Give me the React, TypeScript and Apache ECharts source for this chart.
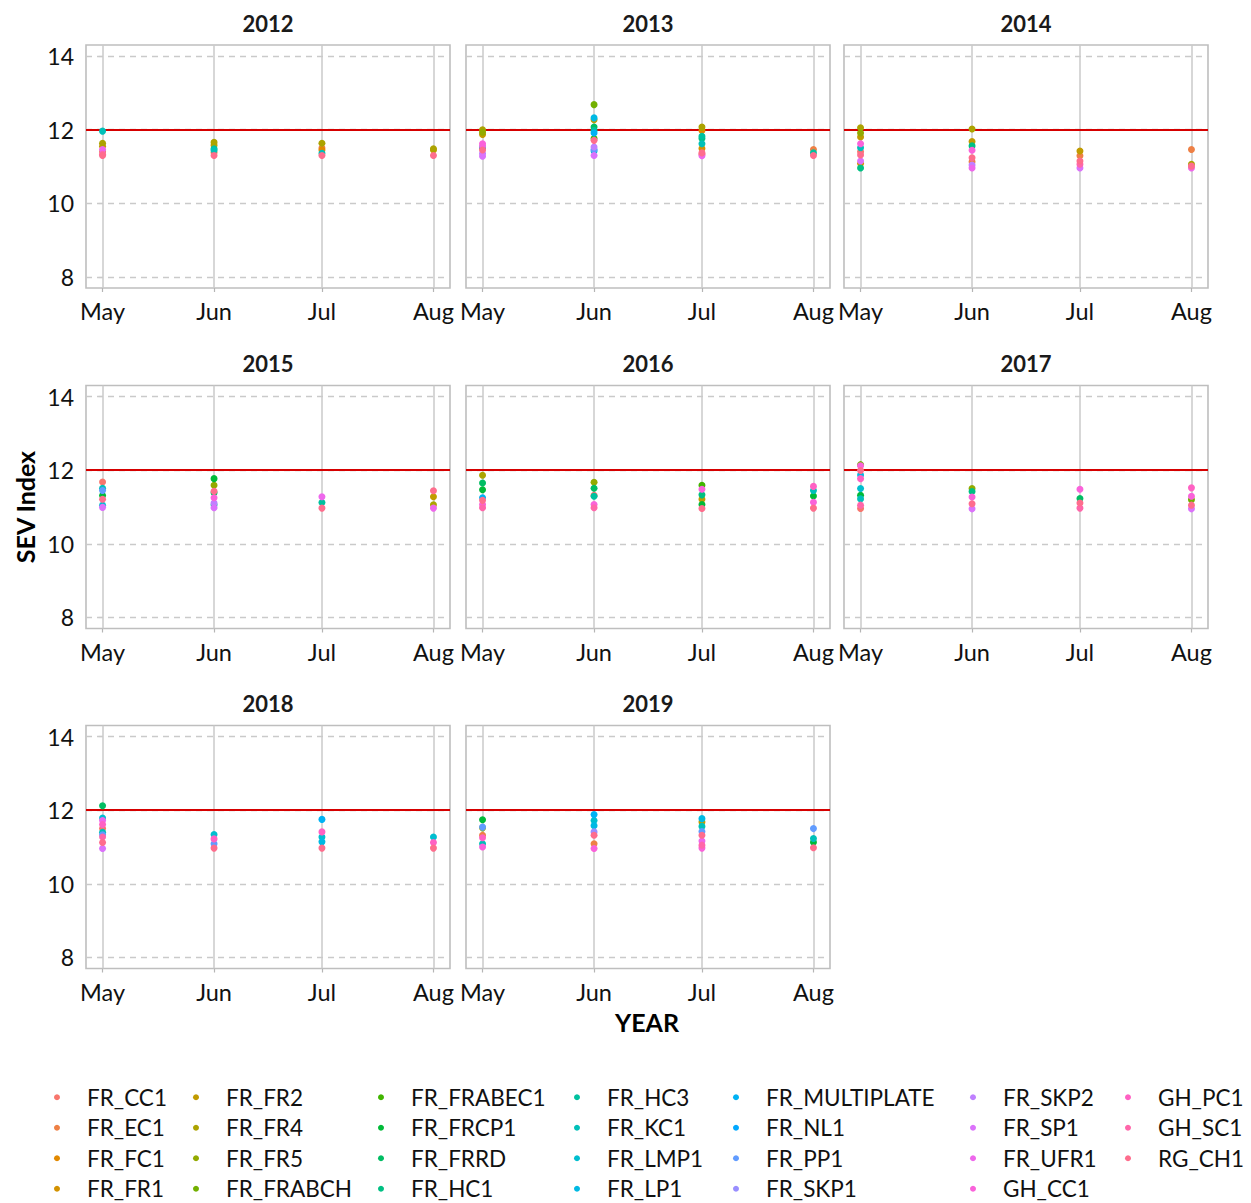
import React, { useEffect, useRef } from "react";
import * as echarts from "echarts";

// ---------------- data ----------------
const YEARS = ["2012", "2013", "2014", "2015", "2016", "2017", "2018", "2019"];
const MONTHS = ["May", "Jun", "Jul", "Aug"];
const MONTH_NUM = [5, 6, 7, 8];
const Y_TICKS = [8, 10, 12, 14];
const THRESHOLD = 12;

const SERIES_NAMES = [
  "FR_CC1", "FR_EC1", "FR_FC1", "FR_FR1",
  "FR_FR2", "FR_FR4", "FR_FR5", "FR_FRABCH",
  "FR_FRABEC1", "FR_FRCP1", "FR_FRRD", "FR_HC1",
  "FR_HC3", "FR_KC1", "FR_LMP1", "FR_LP1",
  "FR_MULTIPLATE", "FR_NL1", "FR_PP1", "FR_SKP1",
  "FR_SKP2", "FR_SP1", "FR_UFR1", "GH_CC1",
  "GH_PC1", "GH_SC1", "RG_CH1",
];

type Pt = [string, string, number];

const yr2012: Pt[] = [
  ["FR_KC1", "May", 11.96], ["FR_FR4", "May", 11.63], ["FR_FR2", "May", 11.55], ["FR_UFR1", "May", 11.46],
  ["FR_EC1", "May", 11.4], ["GH_SC1", "May", 11.33], ["RG_CH1", "May", 11.3],
  ["FR_FR4", "Jun", 11.66], ["FR_FR2", "Jun", 11.58], ["FR_HC3", "Jun", 11.48], ["FR_KC1", "Jun", 11.44],
  ["FR_EC1", "Jun", 11.38], ["RG_CH1", "Jun", 11.3],
  ["FR_FR4", "Jul", 11.63], ["FR_EC1", "Jul", 11.5], ["FR_FC1", "Jul", 11.45], ["FR_KC1", "Jul", 11.36],
  ["RG_CH1", "Jul", 11.3],
  ["FR_FR4", "Aug", 11.48], ["FR_FR2", "Aug", 11.45], ["RG_CH1", "Aug", 11.3],
];

const yr2013: Pt[] = [
  ["FR_FR4", "May", 12.0], ["FR_FR5", "May", 11.93], ["FR_FR2", "May", 11.87], ["GH_CC1", "May", 11.62],
  ["FR_UFR1", "May", 11.55], ["FR_HC3", "May", 11.52], ["FR_CC1", "May", 11.49], ["RG_CH1", "May", 11.45],
  ["FR_SKP2", "May", 11.35], ["FR_SP1", "May", 11.28],
  ["FR_FRABCH", "Jun", 12.68], ["FR_LP1", "Jun", 12.32], ["FR_FR2", "Jun", 12.27], ["FR_FRRD", "Jun", 12.07],
  ["FR_HC3", "Jun", 11.98], ["FR_MULTIPLATE", "Jun", 11.91], ["FR_FRABEC1", "Jun", 11.76], ["RG_CH1", "Jun", 11.71],
  ["FR_SKP2", "Jun", 11.53], ["FR_PP1", "Jun", 11.46], ["FR_LMP1", "Jun", 11.42], ["FR_SP1", "Jun", 11.3],
  ["FR_FR4", "Jul", 12.07], ["FR_FC1", "Jul", 11.98], ["FR_HC3", "Jul", 11.82], ["FR_HC1", "Jul", 11.76],
  ["FR_KC1", "Jul", 11.62], ["FR_FR1", "Jul", 11.49], ["RG_CH1", "Jul", 11.37], ["FR_CC1", "Jul", 11.33],
  ["FR_UFR1", "Jul", 11.29],
  ["FR_EC1", "Aug", 11.46], ["FR_HC3", "Aug", 11.37], ["RG_CH1", "Aug", 11.3],
];

const yr2014: Pt[] = [
  ["FR_FR4", "May", 12.05], ["FR_FR5", "May", 11.91], ["FR_FR2", "May", 11.8], ["GH_CC1", "May", 11.62],
  ["FR_KC1", "May", 11.51], ["FR_CC1", "May", 11.4], ["RG_CH1", "May", 11.31], ["FR_SP1", "May", 11.15],
  ["FR_FR1", "May", 11.08], ["FR_HC1", "May", 10.96],
  ["FR_FR4", "Jun", 12.02], ["FR_FR2", "Jun", 11.68], ["FR_HC1", "Jun", 11.56], ["GH_CC1", "Jun", 11.44],
  ["RG_CH1", "Jun", 11.24], ["FR_EC1", "Jun", 11.13], ["FR_SKP2", "Jun", 11.04], ["FR_UFR1", "Jun", 10.96],
  ["FR_FR2", "Jul", 11.42], ["FR_EC1", "Jul", 11.29], ["RG_CH1", "Jul", 11.15], ["GH_SC1", "Jul", 11.06],
  ["FR_SP1", "Jul", 10.96],
  ["FR_EC1", "Aug", 11.46], ["FR_FR4", "Aug", 11.06], ["RG_CH1", "Aug", 11.01], ["FR_UFR1", "Aug", 10.96],
];

const yr2015: Pt[] = [
  ["FR_CC1", "May", 11.68], ["FR_KC1", "May", 11.51], ["FR_PP1", "May", 11.45], ["FR_FRCP1", "May", 11.31],
  ["RG_CH1", "May", 11.21], ["FR_LMP1", "May", 11.05], ["FR_SP1", "May", 10.99],
  ["FR_FRCP1", "Jun", 11.77], ["FR_FR5", "Jun", 11.59], ["RG_CH1", "Jun", 11.43], ["FR_FRRD", "Jun", 11.39],
  ["GH_CC1", "Jun", 11.25], ["FR_SKP2", "Jun", 11.11], ["FR_HC3", "Jun", 11.06], ["FR_SP1", "Jun", 10.98],
  ["FR_UFR1", "Jul", 11.28], ["FR_HC3", "Jul", 11.12], ["RG_CH1", "Jul", 10.97],
  ["RG_CH1", "Aug", 11.44], ["FR_FR2", "Aug", 11.28], ["FR_FR4", "Aug", 11.06], ["FR_UFR1", "Aug", 10.97],
];

const yr2016: Pt[] = [
  ["FR_FR4", "May", 11.86], ["FR_FRRD", "May", 11.65], ["FR_FRCP1", "May", 11.47], ["FR_MULTIPLATE", "May", 11.25],
  ["RG_CH1", "May", 11.18], ["GH_CC1", "May", 11.07], ["GH_SC1", "May", 10.98],
  ["FR_FR5", "Jun", 11.67], ["FR_FRRD", "Jun", 11.51], ["FR_CC1", "Jun", 11.32], ["FR_HC3", "Jun", 11.29],
  ["GH_CC1", "Jun", 11.07], ["GH_SC1", "Jun", 10.98],
  ["FR_FRABEC1", "Jul", 11.59], ["GH_CC1", "Jul", 11.48], ["FR_HC1", "Jul", 11.33], ["FR_FR2", "Jul", 11.21],
  ["FR_FRCP1", "Jul", 11.07], ["RG_CH1", "Jul", 10.96],
  ["GH_PC1", "Aug", 11.56], ["FR_KC1", "Aug", 11.45], ["FR_FRCP1", "Aug", 11.3], ["GH_CC1", "Aug", 11.13],
  ["RG_CH1", "Aug", 10.97],
];

const yr2017: Pt[] = [
  ["FR_FRABCH", "May", 12.15], ["GH_CC1", "May", 12.12], ["RG_CH1", "May", 11.99], ["FR_LP1", "May", 11.87],
  ["GH_PC1", "May", 11.77], ["FR_LMP1", "May", 11.5], ["FR_FRCP1", "May", 11.32], ["FR_KC1", "May", 11.22],
  ["GH_SC1", "May", 11.05], ["FR_CC1", "May", 10.96],
  ["FR_FR5", "Jun", 11.5], ["FR_HC1", "Jun", 11.42], ["GH_CC1", "Jun", 11.27], ["RG_CH1", "Jun", 11.09],
  ["FR_SP1", "Jun", 10.95],
  ["GH_CC1", "Jul", 11.48], ["FR_FRRD", "Jul", 11.23], ["RG_CH1", "Jul", 11.11], ["GH_SC1", "Jul", 10.97],
  ["GH_PC1", "Aug", 11.52], ["GH_CC1", "Aug", 11.29], ["FR_FRABCH", "Aug", 11.2], ["RG_CH1", "Aug", 11.05],
  ["FR_SP1", "Aug", 10.95],
];

const yr2018: Pt[] = [
  ["FR_FRRD", "May", 12.12], ["FR_LMP1", "May", 11.79], ["FR_UFR1", "May", 11.72], ["GH_PC1", "May", 11.61],
  ["FR_CC1", "May", 11.5], ["FR_KC1", "May", 11.4], ["FR_PP1", "May", 11.33], ["GH_SC1", "May", 11.27],
  ["RG_CH1", "May", 11.12], ["FR_SP1", "May", 10.96],
  ["FR_LMP1", "Jun", 11.34], ["GH_PC1", "Jun", 11.22], ["FR_PP1", "Jun", 11.09], ["RG_CH1", "Jun", 10.97],
  ["FR_MULTIPLATE", "Jul", 11.75], ["GH_PC1", "Jul", 11.41], ["FR_LMP1", "Jul", 11.27], ["FR_LP1", "Jul", 11.14],
  ["RG_CH1", "Jul", 10.97],
  ["FR_LMP1", "Aug", 11.27], ["GH_PC1", "Aug", 11.12], ["RG_CH1", "Aug", 10.97],
];

const yr2019: Pt[] = [
  ["FR_FRCP1", "May", 11.74], ["FR_PP1", "May", 11.54], ["FR_FR5", "May", 11.52], ["FR_EC1", "May", 11.32],
  ["GH_PC1", "May", 11.25], ["FR_KC1", "May", 11.09], ["GH_CC1", "May", 11.0],
  ["FR_MULTIPLATE", "Jun", 11.88], ["FR_LMP1", "Jun", 11.72], ["FR_LP1", "Jun", 11.58], ["FR_SKP1", "Jun", 11.41],
  ["RG_CH1", "Jun", 11.32], ["FR_EC1", "Jun", 11.09], ["GH_CC1", "Jun", 10.96],
  ["FR_LP1", "Jul", 11.77], ["FR_FR2", "Jul", 11.68], ["FR_KC1", "Jul", 11.56], ["FR_PP1", "Jul", 11.42],
  ["RG_CH1", "Jul", 11.32], ["FR_UFR1", "Jul", 11.16], ["GH_SC1", "Jul", 11.05], ["GH_CC1", "Jul", 10.97],
  ["FR_PP1", "Aug", 11.5], ["FR_KC1", "Aug", 11.23], ["FR_FRCP1", "Aug", 11.13], ["RG_CH1", "Aug", 10.98],
];

const YEAR_DATA: Pt[][] = [yr2012, yr2013, yr2014, yr2015, yr2016, yr2017, yr2018, yr2019];

// ---------------- helpers ----------------
// ggplot2-style hue palette (CIE-LUV polar, c=100, l=65)
function hclHex(h: number, c = 100, l = 65): string {
  const hr = (h * Math.PI) / 180;
  const U = c * Math.cos(hr);
  const V = c * Math.sin(hr);
  const Y = l > 8 ? Math.pow((l + 16) / 116, 3) : l / 903.3;
  const un = 0.1978398, vn = 0.4683363;
  const u = U / (13 * l) + un;
  const v = V / (13 * l) + vn;
  const X = (9 * Y * u) / (4 * v);
  const Z = (Y * (12 - 3 * u - 20 * v)) / (4 * v);
  const lin = [
    3.240479 * X - 1.53715 * Y - 0.498535 * Z,
    -0.969256 * X + 1.875992 * Y + 0.041556 * Z,
    0.055648 * X - 0.204043 * Y + 1.057311 * Z,
  ];
  const toHex = (x: number) => {
    const cl = Math.min(1, Math.max(0, x));
    const g = cl <= 0.0031308 ? 12.92 * cl : 1.055 * Math.pow(cl, 1 / 2.4) - 0.055;
    const n = Math.round(255 * Math.min(1, Math.max(0, g)));
    return n.toString(16).padStart(2, "0");
  };
  return "#" + lin.map(toHex).join("");
}

const COLORS = SERIES_NAMES.map((_, i) => hclHex(15 + (i * 360) / SERIES_NAMES.length));

const dayOf = (m: number) => (Date.UTC(2000, m - 1, 1) - Date.UTC(2000, 4, 1)) / 86400000;
const X_TICKS = MONTH_NUM.map(dayOf);
const X_SPAN = X_TICKS[X_TICKS.length - 1] - X_TICKS[0];
const X_MIN = X_TICKS[0] - X_SPAN * 0.05;
const X_MAX = X_TICKS[X_TICKS.length - 1] + X_SPAN * 0.05;
const Y_SPAN = Y_TICKS[Y_TICKS.length - 1] - Y_TICKS[0];
const Y_MIN = Y_TICKS[0] - Y_SPAN * 0.05;
const Y_MAX = Y_TICKS[Y_TICKS.length - 1] + Y_SPAN * 0.05;

// ---------------- layout ----------------
const FONT = "Lato, 'Open Sans', sans-serif";
const COL_LEFT = [86, 466, 844];
const ROW_TOP = [45, 385.5, 725.5];
const PANEL_W = 364;
const PANEL_H = 243;
const GRID_COLOR = "#CACACA";
const BORDER_COLOR = "#BEBEBE";
const TEXT_COLOR = "#111111";
const LEGEND_DOT_X = [57, 196, 381, 577, 736, 973, 1128];

export default function App() {
  const ref = useRef<HTMLDivElement>(null);

  useEffect(() => {
    if (!ref.current) return;
    const chart = echarts.init(ref.current, undefined, { renderer: "svg" });

    const grids: any[] = [];
    const xAxes: any[] = [];
    const yAxes: any[] = [];
    const series: any[] = [];
    const graphics: any[] = [];

    YEARS.forEach((year, g) => {
      const col = g % 3;
      const row = Math.floor(g / 3);
      const left = COL_LEFT[col];
      const top = ROW_TOP[row];
      grids.push({
        left,
        top,
        width: PANEL_W,
        height: PANEL_H,
        show: true,
        borderColor: BORDER_COLOR,
        borderWidth: 1.6,
        backgroundColor: "#ffffff",
        containLabel: false,
        outerBoundsMode: "none",
      });
      xAxes.push({
        gridIndex: g,
        type: "value",
        min: X_MIN,
        max: X_MAX,
        axisLine: { show: false },
        splitLine: { show: false },
        axisTick: {
          show: true,
          customValues: X_TICKS,
          length: 4,
          lineStyle: { color: "#B5B5B5", width: 1.2 },
        },
        axisLabel: {
          show: true,
          customValues: X_TICKS,
          margin: 11,
          fontSize: 23.5,
          fontFamily: FONT,
          color: TEXT_COLOR,
          formatter: (v: number) => {
            const i = X_TICKS.findIndex((t) => Math.abs(t - v) < 0.01);
            return i >= 0 ? MONTHS[i] : "";
          },
        },
      });
      const isLeft = col === 0;
      yAxes.push({
        gridIndex: g,
        type: "value",
        min: Y_MIN,
        max: Y_MAX,
        axisLine: { show: false },
        splitLine: { show: false },
        axisTick: {
          show: isLeft,
          customValues: Y_TICKS,
          length: 4,
          lineStyle: { color: "#B5B5B5", width: 1.2 },
        },
        axisLabel: {
          show: isLeft,
          customValues: Y_TICKS,
          margin: 12,
          fontSize: 23,
          fontFamily: FONT,
          color: TEXT_COLOR,
        },
      });

      // grid lines
      series.push({
        type: "scatter",
        xAxisIndex: g,
        yAxisIndex: g,
        data: [],
        silent: true,
        z: 1,
        markLine: {
          silent: true,
          z: 1,
          symbol: ["none", "none"],
          label: { show: false },
          emphasis: { disabled: true },
          data: [
            ...X_TICKS.map((x) => ({
              xAxis: x,
              lineStyle: { color: GRID_COLOR, width: 1.5, type: "solid" },
            })),
            ...Y_TICKS.map((y) => ({
              yAxis: y,
              lineStyle: { color: GRID_COLOR, width: 1.4, type: [6, 5] },
            })),
          ],
        },
      });
      // threshold line
      series.push({
        type: "scatter",
        xAxisIndex: g,
        yAxisIndex: g,
        data: [],
        silent: true,
        z: 1,
        markLine: {
          silent: true,
          z: 1.5,
          symbol: ["none", "none"],
          label: { show: false },
          emphasis: { disabled: true },
          data: [{ yAxis: THRESHOLD, lineStyle: { color: "#D60000", width: 2, type: "solid" } }],
        },
      });

      const pts = YEAR_DATA[g];
      SERIES_NAMES.forEach((name, si) => {
        const data = pts
          .filter((p) => p[0] === name)
          .map((p) => [dayOf(MONTH_NUM[MONTHS.indexOf(p[1])]), p[2]]);
        series.push({
          type: "scatter",
          name,
          xAxisIndex: g,
          yAxisIndex: g,
          data,
          symbol: "circle",
          symbolSize: 7,
          z: 2,
          itemStyle: { color: COLORS[si], opacity: 1 },
          emphasis: { disabled: true },
        });
      });

      graphics.push({
        type: "text",
        x: left + PANEL_W / 2,
        y: top - 22,
        style: {
          text: year,
          font: `bold 22px ${FONT}`,
          fill: "#1a1a1a",
          align: "center",
          verticalAlign: "middle",
        },
      });
    });

    graphics.push({
      type: "text",
      x: 25,
      y: 507,
      rotation: Math.PI / 2,
      style: {
        text: "SEV Index",
        font: `bold 25px ${FONT}`,
        fill: "#000000",
        align: "center",
        verticalAlign: "middle",
      },
    });
    graphics.push({
      type: "text",
      x: 647,
      y: 1022,
      style: {
        text: "YEAR",
        font: `bold 25px ${FONT}`,
        fill: "#000000",
        align: "center",
        verticalAlign: "middle",
      },
    });

    const legends: any[] = [];
    for (let c = 0; c * 4 < SERIES_NAMES.length; c++) {
      legends.push({
        show: true,
        type: "plain",
        orient: "vertical",
        left: LEGEND_DOT_X[c] - 3,
        top: 1082,
        height: 160,
        padding: 0,
        itemGap: 0,
        itemWidth: 50,
        itemHeight: 6,
        icon: "circle",
        selectedMode: false,
        data: SERIES_NAMES.slice(c * 4, c * 4 + 4),
        textStyle: {
          fontSize: 22.5,
          fontFamily: FONT,
          color: TEXT_COLOR,
          lineHeight: 30.5,
          padding: [0, 0, 0, 0],
        },
      });
    }

    chart.setOption({
      animation: false,
      backgroundColor: "#ffffff",
      grid: grids,
      xAxis: xAxes,
      yAxis: yAxes,
      series,
      legend: legends,
      graphic: { elements: graphics },
    });

    return () => chart.dispose();
  }, []);

  return (
    <div
      ref={ref}
      style={{ position: "absolute", left: 0, top: 0, width: 1251, height: 1203 }}
    />
  );
}
